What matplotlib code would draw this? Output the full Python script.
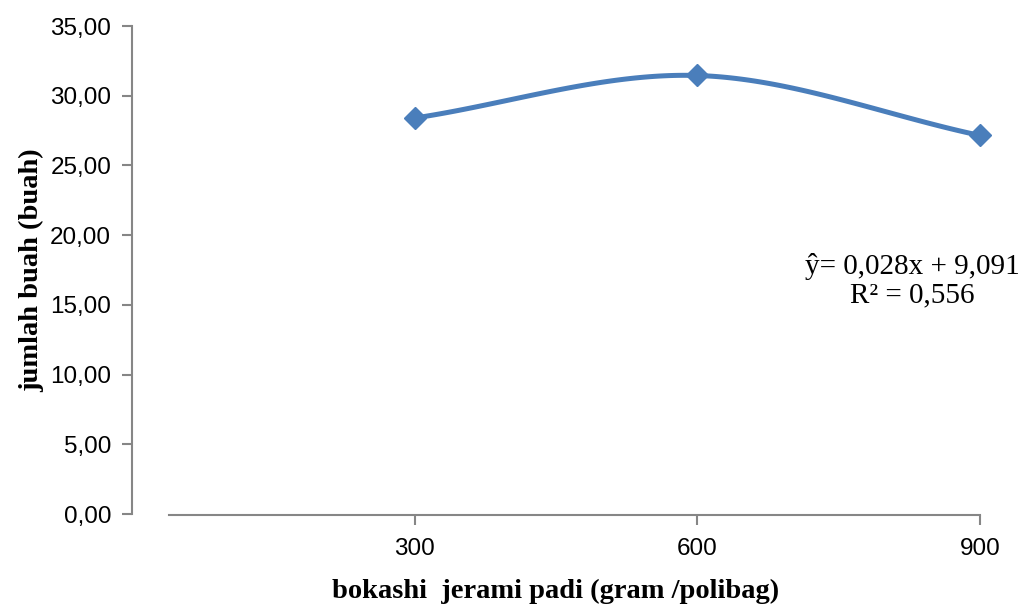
import matplotlib.pyplot as plt
import numpy as np

# data
dosis = [300, 600, 900]
jumlah_buah = [28.40, 31.45, 27.15]
yticks = [0, 5, 10, 15, 20, 25, 30, 35]
persamaan = 'ŷ= 0,028x + 9,091\nR² = 0,556'

abu = '#868686'
biru = '#4A7EBB'


def smooth(xs, ys, n=60):
    # bezier smoothing like excel's smoothed line
    xs = list(map(float, xs))
    ys = list(map(float, ys))
    t = np.linspace(0, 1, n)
    outx, outy = [], []
    m = len(xs)
    for i in range(m - 1):
        for p, out in ((xs, outx), (ys, outy)):
            p1, p2 = p[i], p[i + 1]
            c1 = p1 + ((p2 - p[i - 1]) / 6 if i > 0 else (p2 - p1) / 3)
            c2 = p2 - ((p[i + 2] - p1) / 6 if i + 2 < m else (p2 - p1) / 3)
            out.extend((1 - t) ** 3 * p1 + 3 * (1 - t) ** 2 * t * c1
                       + 3 * (1 - t) * t ** 2 * c2 + t ** 3 * p2)
    return outx, outy


fig = plt.figure(figsize=(10.23, 6.06), dpi=100)
ax = fig.add_axes([132 / 1023, 92 / 606, 848 / 1023, 488 / 606])

sx, sy = smooth(dosis, jumlah_buah)
ax.plot(sx, sy, color=biru, lw=3.6, solid_capstyle='round', zorder=3, clip_on=False)
ax.plot(dosis, jumlah_buah, 'D', color=biru, ms=11, zorder=4, clip_on=False)

ax.set_xlim(0, 900)
ax.set_ylim(0, 35)
ax.set_xticks(dosis)
ax.set_xticklabels([str(d) for d in dosis])
ax.set_yticks(yticks)
ax.set_yticklabels([('%.2f' % v).replace('.', ',') for v in yticks])

for s in ['top', 'right']:
    ax.spines[s].set_visible(False)
for s in ['left', 'bottom']:
    ax.spines[s].set_color(abu)
    ax.spines[s].set_linewidth(1.5)
ax.spines['bottom'].set_bounds(39, 900)
ax.spines['bottom'].set_position(('outward', 1))

ax.tick_params(axis='both', color=abu, width=1.5, length=7,
               labelsize=17.5, labelcolor='black')
ax.tick_params(axis='y', pad=8)
ax.tick_params(axis='x', pad=9)
for lab in ax.get_xticklabels() + ax.get_yticklabels():
    lab.set_fontfamily('Liberation Sans')

ax.set_xlabel('bokashi  jerami padi (gram /polibag)', fontsize=20.5,
              fontweight='bold', family='Liberation Serif', labelpad=14)
ax.set_ylabel('jumlah buah (buah)', fontsize=20.5, fontweight='bold',
              family='Liberation Serif', labelpad=4)

fig.text(912 / 1023, (606 - 281) / 606, persamaan, ha='center', va='center',
         fontsize=21, family='Liberation Serif', linespacing=1.1)

fig.savefig('out.png', dpi=100)
